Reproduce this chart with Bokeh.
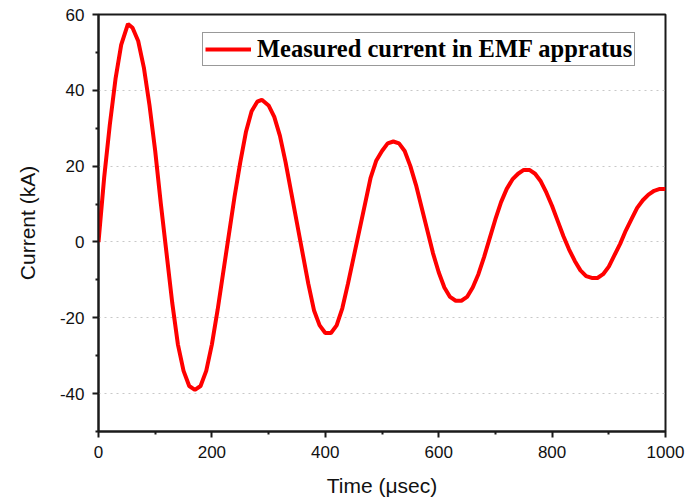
from bokeh.plotting import figure
from bokeh.models import FixedTicker, Range1d, Legend, LegendItem, ColumnDataSource
from bokeh.embed import file_html
from bokeh.resources import INLINE

time_us = [0, 10, 20, 30, 40, 52, 60, 70, 80, 90, 100, 110, 120, 130, 140, 150, 160, 170,
           180, 190, 200, 210, 220, 230, 240, 250, 260, 270, 280, 288, 300, 310, 320, 330,
           340, 350, 360, 370, 380, 390, 400, 410, 420, 430, 440, 450, 460, 470, 480, 490,
           500, 510, 520, 530, 540, 550, 560, 570, 580, 590, 600, 610, 620, 630, 640, 650,
           660, 670, 680, 690, 700, 710, 720, 730, 740, 750, 760, 770, 780, 790, 800, 810,
           820, 830, 840, 850, 860, 870, 880, 890, 900, 910, 920, 930, 940, 950, 960, 970,
           980, 990, 1000]
current_ka = [0, 17, 31, 43, 52, 57.5, 56.5, 53, 46, 36, 24, 10, -3, -16, -27, -34, -38, -39,
              -38, -34, -27, -18, -8, 2, 12, 21, 29, 34.5, 37, 37.5, 36, 33, 28, 21,
              13, 5, -3, -11, -18, -22, -24, -24, -22, -17.5, -11, -4, 3, 10, 17, 21.5,
              24, 26, 26.5, 26, 24, 20, 15, 9, 3, -3, -8, -12, -14.5, -15.5, -15.5, -14.5,
              -12, -8.5, -4, 1, 6, 10.5, 14, 16.5, 18, 19, 19, 18, 16, 13, 9.5, 5.5,
              1.5, -2, -5, -7.5, -9, -9.5, -9.5, -8.5, -6.5, -3.5, -0.5, 3, 6, 9, 11, 12.5,
              13.5, 14, 14]

x_major = [0, 200, 400, 600, 800, 1000]
x_minor = [100, 300, 500, 700, 900]
y_major = [-40, -20, 0, 20, 40, 60]
y_minor = [-50, -30, -10, 10, 30, 50]

series_name = "Measured current in EMF appratus"

p = figure(width=690, height=499, output_backend="svg", toolbar_location=None,
           x_range=Range1d(0, 1000), y_range=Range1d(-50, 60),
           min_border_left=98, min_border_right=25, min_border_top=14, min_border_bottom=67,
           x_axis_label="Time (\u03bcsec)", y_axis_label="Current (kA)")

src = ColumnDataSource(dict(t=time_us, i=current_ka))
r = p.line("t", "i", source=src, line_color="#ff0000", line_width=4)

font = "Liberation Sans"
for ax in [p.xaxis[0], p.yaxis[0]]:
    ax.axis_line_width = 2
    ax.axis_line_color = "#1a1a1a"
    ax.major_tick_line_width = 2
    ax.minor_tick_line_width = 2
    ax.major_tick_line_color = "#1a1a1a"
    ax.minor_tick_line_color = "#1a1a1a"
    ax.major_tick_out = 6
    ax.major_tick_in = 0
    ax.minor_tick_out = 3
    ax.minor_tick_in = 0
    ax.major_label_text_font = font
    ax.major_label_text_font_size = "17px"
    ax.major_label_text_color = "#111111"
    ax.axis_label_text_font = font
    ax.axis_label_text_font_size = "21px"
    ax.axis_label_text_font_style = "normal"
    ax.axis_label_text_color = "#111111"

p.xaxis[0].ticker = FixedTicker(ticks=x_major, minor_ticks=x_minor)
p.yaxis[0].ticker = FixedTicker(ticks=y_major, minor_ticks=y_minor)
p.yaxis[0].major_label_overrides = {v: str(v) for v in y_major}
p.xaxis[0].major_label_standoff = 8
p.yaxis[0].major_label_standoff = 8
p.xaxis[0].axis_label_standoff = 13
p.yaxis[0].axis_label_standoff = 18

p.xgrid.visible = False
p.ygrid.ticker = FixedTicker(ticks=y_major)
p.ygrid.grid_line_color = "#c8c8c8"
p.ygrid.grid_line_dash = "2 4"
p.ygrid.grid_line_width = 1
p.outline_line_color = "#1a1a1a"
p.outline_line_width = 2
p.outline_line_alpha = 1

legend = Legend(items=[LegendItem(label=series_name, renderers=[r])],
                location=(104, 365))
legend.label_text_font = "Liberation Serif"
legend.label_text_font_style = "bold"
legend.label_text_font_size = "24.5px"
legend.label_text_color = "#000000"
legend.border_line_color = "#333333"
legend.border_line_width = 1
legend.padding = 2
legend.margin = 0
legend.spacing = 0
legend.glyph_width = 46
legend.glyph_height = 24
legend.label_standoff = 6
legend.label_height = 24
p.add_layout(legend, "center")

open("out.html", "w").write(file_html(p, INLINE))
